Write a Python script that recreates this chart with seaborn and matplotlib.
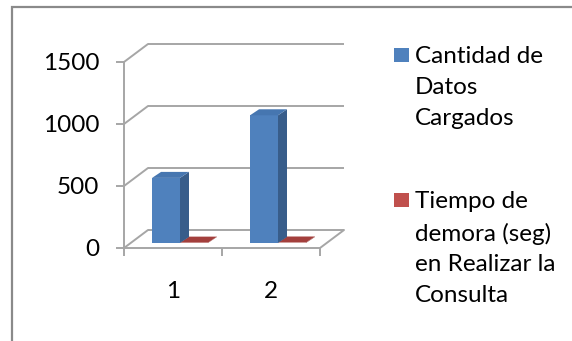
import numpy as np
import pandas as pd
import matplotlib
matplotlib.use("Agg")
import matplotlib.pyplot as plt
import seaborn as sns
from matplotlib.patches import Polygon, Rectangle

# ---------------- data ----------------
categories = ["1", "2"]
cantidad_datos = [525, 1030]
tiempo_demora = [3, 4]
series_labels = ["Cantidad de\nDatos\nCargados",
                 "Tiempo de\ndemora (seg)\nen Realizar la\nConsulta"]
y_ticks = [0, 500, 1000, 1500]

# ---------------- style ----------------
colors_front = ["#4F81BD", "#C0504D"]
colors_side = ["#385D8A", "#8C3836"]
colors_top = ["#4676B0", "#A33F3C"]
grid_color = "#A6A6A6"
W, H, DPI = 572, 341, 100
FS = 17.5

sns.set_theme(style="white")
plt.rcParams["font.family"] = ["Lato", "DejaVu Sans"]

df = pd.DataFrame({
    "Consulta": categories * 2,
    "Valor": cantidad_datos + tiempo_demora,
    "Serie": [series_labels[0]] * len(categories) + [series_labels[1]] * len(categories),
})

fig = plt.figure(figsize=(W / DPI, H / DPI), dpi=DPI)
fig.patch.set_facecolor("white")

# axes geometry in pixels (front face of the 3D box)
ax_l, ax_b, ax_w, ax_h = 124, H - 248, 196, 186
ax = fig.add_axes([ax_l / W, ax_b / H, ax_w / W, ax_h / H])
ax.set_facecolor("none")

sns.barplot(data=df, x="Consulta", y="Valor", hue="Serie", hue_order=series_labels,
            palette=colors_front, width=0.57, saturation=1, legend=False,
            errorbar=None, ax=ax, edgecolor="none", linewidth=0, zorder=3)

ax.set_xlim(-0.5, len(categories) - 0.5)
ax.set_ylim(y_ticks[0], y_ticks[-1])
xmin, xmax = ax.get_xlim()
px_x = (xmax - xmin) / ax_w
px_y = (y_ticks[-1] - y_ticks[0]) / ax_h

DX, DY = 24, 18      # depth of walls (px)
BX, BY = 7, 5        # bar placement inside depth (px)
DBX, DBY = 9, 6      # bar depth (px)
lw = 1.4

# back wall gridlines + left wall diagonals
for t in y_ticks:
    ax.plot([xmin + DX * px_x, xmax + DX * px_x], [t + DY * px_y] * 2,
            color=grid_color, lw=lw, clip_on=False, zorder=1, solid_capstyle="butt")
    ax.plot([xmin, xmin + DX * px_x], [t, t + DY * px_y],
            color=grid_color, lw=lw, clip_on=False, zorder=1)
ax.plot([xmax, xmax + DX * px_x], [y_ticks[0], y_ticks[0] + DY * px_y],
        color=grid_color, lw=lw, clip_on=False, zorder=1)

# 3D extrusion of bars
for si, cont in enumerate(ax.containers):
    for p in cont.patches:
        x0 = p.get_x() + BX * px_x
        w = p.get_width()
        h = p.get_height()
        b = BY * px_y
        p.set_x(x0)
        p.set_y(b)
        p.set_zorder(3 + (1 - si) * 3)
        x1 = x0 + w
        top = b + h
        dx, dy = DBX * px_x, DBY * px_y
        side = Polygon([[x1, b], [x1 + dx, b + dy], [x1 + dx, top + dy], [x1, top]],
                       closed=True, facecolor=colors_side[si], edgecolor="none",
                       clip_on=False, zorder=3 + (1 - si) * 3 + 1)
        topf = Polygon([[x0, top], [x1, top], [x1 + dx, top + dy], [x0 + dx, top + dy]],
                       closed=True, facecolor=colors_top[si], edgecolor="none",
                       clip_on=False, zorder=3 + (1 - si) * 3 + 1)
        ax.add_patch(side)
        ax.add_patch(topf)

# axes / ticks
for s in ["top", "right"]:
    ax.spines[s].set_visible(False)
for s in ["left", "bottom"]:
    ax.spines[s].set_color(grid_color)
    ax.spines[s].set_linewidth(lw)
    ax.spines[s].set_zorder(2)

ax.set_yticks(y_ticks)
ax.set_yticklabels([str(t) for t in y_ticks])
ax.tick_params(axis="y", left=True, length=8 * 0.72, width=lw, color=grid_color,
               pad=12, labelsize=FS, labelcolor="black", direction="out")
ax.set_xticks(range(len(categories)))
ax.set_xticklabels(categories)
ax.set_xticks([i - 0.5 for i in range(len(categories) + 1)], minor=True)
ax.tick_params(axis="x", which="major", bottom=True, length=0, pad=24,
               labelsize=FS, labelcolor="black")
ax.tick_params(axis="x", which="minor", bottom=True, length=8 * 0.72, width=lw,
               color=grid_color, direction="out")
ax.set_xlabel("")
ax.set_ylabel("")

# legend (manual, Excel-like: square aligned with the first text line)
leg_sq_x = 394
leg_items_y = [55, 200]
for col, lab, yc in zip(colors_front, series_labels, leg_items_y):
    fig.patches.append(Rectangle(((leg_sq_x) / W, 1 - (yc + 7) / H), 15 / W, 14 / H,
                                 transform=fig.transFigure, facecolor=col,
                                 edgecolor="none"))
    fig.text(415 / W, 1 - (yc - 9) / H, lab, ha="left", va="top", fontsize=FS,
             linespacing=1.58, color="black")

# outer frame
fig.patches.append(Rectangle((12 / W, -0.1), 2, 1.1 - 6.8 / H, transform=fig.transFigure,
                             fill=False, edgecolor="#8A8A8A", linewidth=1.6))

fig.savefig("out.png", dpi=DPI, facecolor="white")
